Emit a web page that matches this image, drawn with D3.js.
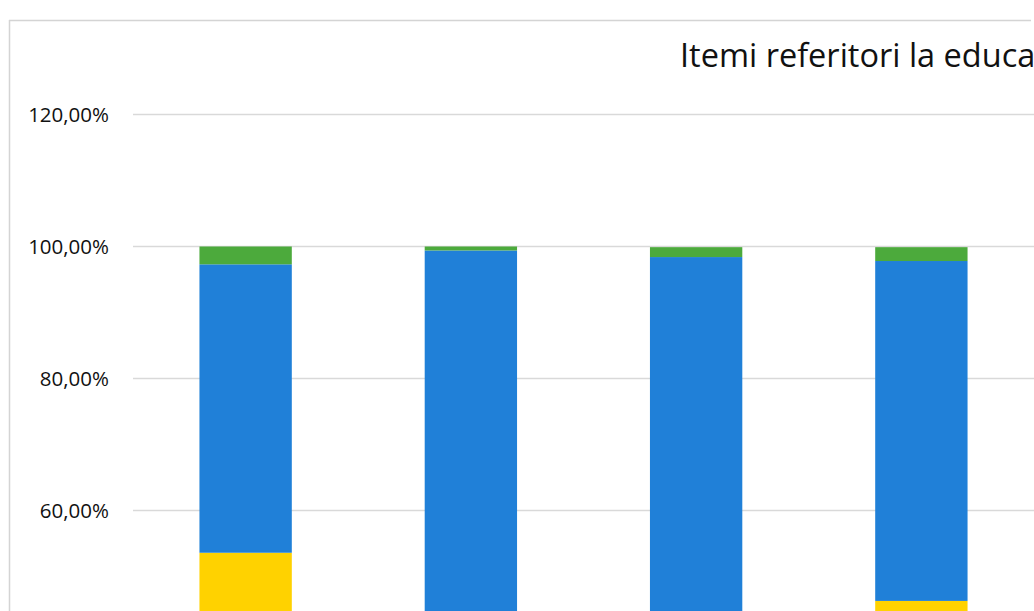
<!DOCTYPE html>
<html>
<head>
<meta charset="utf-8">
<script src="https://cdn.jsdelivr.net/npm/d3@7"></script>
<style>
  html, body { margin: 0; padding: 0; background: #fff; overflow: hidden; }
  svg { display: block; }
</style>
</head>
<body>
<svg id="chart" width="1034" height="611"></svg>
<script>
// ---- data (values as fractions) ----
const categories = ["Item 1", "Item 2", "Item 3", "Item 4"];
const seriesNames = ["Galben", "Albastru", "Verde"];
const yellowValues = [0.536, 0.40, 0.42, 0.463];
const blueValues   = [0.437, 0.594, 0.564, 0.515];
const greenValues  = [0.027, 0.006, 0.015, 0.021];
const seriesColors = ["#ffd200", "#2080d8", "#4caa3c"];
const yTicks = [0.6, 0.8, 1.0, 1.2];
const chartTitle = "Itemi referitori la educația pentru sănătate";

const rows = categories.map((c, i) => ({
  cat: c,
  [seriesNames[0]]: yellowValues[i],
  [seriesNames[1]]: blueValues[i],
  [seriesNames[2]]: greenValues[i]
}));

const svg = d3.select("#chart");
const font = "'Open Sans', 'Noto Sans', sans-serif";

// frame of chart area
svg.append("line").attr("x1", 9).attr("x2", 1031).attr("y1", 20.5).attr("y2", 20.5)
  .attr("stroke", "#d4d4d4").attr("stroke-width", 1.5);
svg.append("line").attr("x1", 9.5).attr("x2", 9.5).attr("y1", 20).attr("y2", 611)
  .attr("stroke", "#d4d4d4").attr("stroke-width", 1.5);

// scales
const x = d3.scaleBand().domain(categories).range([133, 1034]).paddingInner(0.59).paddingOuter(0.295);
const y = d3.scaleLinear().domain([0, 1.2]).range([906.5, 114.5]);

// gridlines
svg.append("g").selectAll("line").data(yTicks).join("line")
  .attr("x1", 133).attr("x2", 1034)
  .attr("y1", d => y(d)).attr("y2", d => y(d))
  .attr("stroke", "#d9d9d9").attr("stroke-width", 1.5);

// y axis labels
const fmt = d => d3.format(".2f")(d * 100).replace(".", ",") + "%";
const yAxis = d3.axisLeft(y).tickValues(yTicks).tickFormat(fmt).tickSize(0).tickPadding(0);
const yg = svg.append("g").attr("transform", "translate(109,0)").call(yAxis);
yg.select(".domain").remove();
yg.selectAll("text").attr("font-family", font).attr("font-size", 20.5).attr("fill", "#111");

// stacked bars
const stack = d3.stack().keys(seriesNames);
const layers = stack(rows);
svg.append("g").selectAll("g").data(layers).join("g")
  .attr("fill", (d, i) => seriesColors[i])
  .selectAll("rect").data(d => d).join("rect")
  .attr("x", d => x(d.data.cat))
  .attr("width", x.bandwidth())
  .attr("y", d => y(d[1]))
  .attr("height", d => y(d[0]) - y(d[1]));

// title (the reference crops it at the right edge)
svg.append("text").attr("x", 680).attr("y", 67)
  .attr("font-family", font).attr("font-size", 32.5).attr("fill", "#111")
  .text(chartTitle);
</script>
</body>
</html>
